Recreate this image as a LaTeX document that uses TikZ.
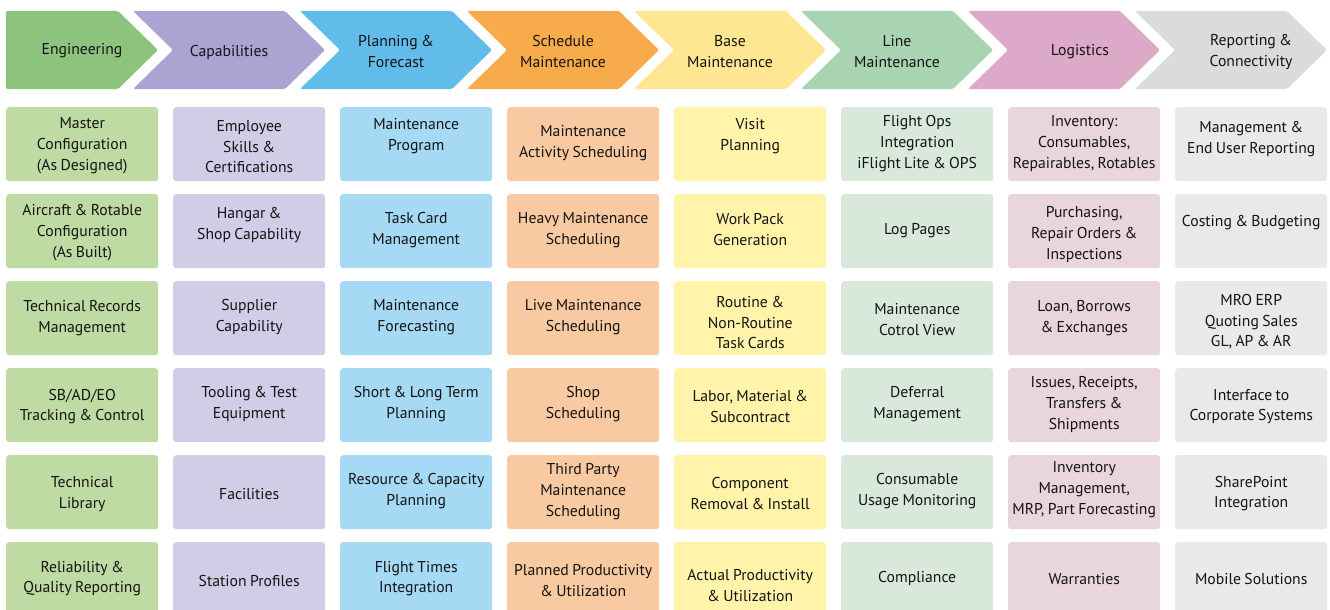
\documentclass[tikz,border=0pt]{standalone}
\usepackage{fontspec}
\setmainfont[WordSpace=0.8]{PT Sans}
\definecolor{hA}{HTML}{8CC47E}
\definecolor{hB}{HTML}{ABA3D1}
\definecolor{hC}{HTML}{62BCEA}
\definecolor{hD}{HTML}{F7AB4A}
\definecolor{hE}{HTML}{FFE693}
\definecolor{hF}{HTML}{A8D4B1}
\definecolor{hG}{HTML}{DCA9C8}
\definecolor{hH}{HTML}{DADBDB}
\definecolor{bA}{HTML}{BFDBA4}
\definecolor{bB}{HTML}{D2CDE7}
\definecolor{bC}{HTML}{A6D9F4}
\definecolor{bD}{HTML}{F9C9A1}
\definecolor{bE}{HTML}{FFF4AA}
\definecolor{bF}{HTML}{D8E9DB}
\definecolor{bG}{HTML}{E8D5DE}
\definecolor{bH}{HTML}{E9E9E9}
\definecolor{txt}{HTML}{141414}
\newcommand\chev[5][0]{% #1 text xshift, #2 left x, #3 colour, #4 name, #5 text
  \fill[#3, rounded corners=1.5pt] (#2,11) -- (#2+152,11) -- (#2+192,50) -- (#2+152,89) -- (#2,89) -- (#2+40,50) -- cycle;
  \node[headtext] (#4) at (#2+96+#1,52) {#5};}
\newcommand\cellbox[6][0]{% #1 text raise, #2 col, #3 row, #4 colour, #5 name, #6 text
  \node[cellnode, fill=#4] (#5) at ({6+167*#2},{107+87*#3}) {};
  \node[celltext, yshift=#1pt, yshift=-1.5pt] (#5t) at (#5.center) {#6};}
\begin{document}
\begin{tikzpicture}[x=1pt,y=-1pt,
  headtext/.style={align=center, font=\fontsize{15.7}{21}\selectfont, text=txt, inner sep=0pt},
  cellnode/.style={anchor=north west, rounded corners=3pt, minimum width=152pt, minimum height=74pt, inner sep=0pt},
  celltext/.style={align=center, font=\fontsize{15.7}{20.7}\selectfont, text=txt, inner sep=0pt}]
\useasboundingbox (0,0) rectangle (1330,610);
\clip (0,0) rectangle (1330,610);
% first chevron (flat left side)
\fill[hA, rounded corners=1.5pt] (6,11) -- (118,11) -- (158,50) -- (118,89) -- (6,89) -- cycle;
\node[headtext] (h1) at (82,51) {Engineering};
\chev{133}{hB}{h2}{Capabilities}
\chev{300}{hC}{h3}{Planning \&\\Forecast}
\chev{467}{hD}{h4}{Schedule\\Maintenance}
\chev{634}{hE}{h5}{Base\\Maintenance}
\chev{801}{hF}{h6}{Line\\Maintenance}
\chev[16]{968}{hG}{h7}{Logistics}
\chev[20]{1135}{hH}{h8}{Reporting \&\\Connectivity}
% column 1
\cellbox{0}{0}{bA}{a1}{Master\\Configuration\\(As Designed)}
\cellbox{0}{1}{bA}{a2}{Aircraft \& Rotable\\Configuration\\(As Built)}
\cellbox[1.5]{0}{2}{bA}{a3}{Technical Records\\Management}
\cellbox{0}{3}{bA}{a4}{SB/AD/EO\\Tracking \& Control}
\cellbox{0}{4}{bA}{a5}{Technical\\Library}
\cellbox[2]{0}{5}{bA}{a6}{Reliability \&\\Quality Reporting}
% column 2
\cellbox[-1]{1}{0}{bB}{b1}{Employee\\Skills \&\\Certifications}
\cellbox[7.5]{1}{1}{bB}{b2}{Hangar \&\\Shop Capability}
\cellbox[2.5]{1}{2}{bB}{b3}{Supplier\\Capability}
\cellbox[2.5]{1}{3}{bB}{b4}{Tooling \& Test\\Equipment}
\cellbox{1}{4}{bB}{b5}{Facilities}
\cellbox{1}{5}{bB}{b6}{Station Profiles}
% column 3
\cellbox[9.5]{2}{0}{bC}{c1}{Maintenance\\Program}
\cellbox[2.5]{2}{1}{bC}{c2}{Task Card\\Management}
\cellbox[2.5]{2}{2}{bC}{c3}{Maintenance\\Forecasting}
\cellbox[2.5]{2}{3}{bC}{c4}{Short \& Long Term\\Planning}
\cellbox[2.5]{2}{4}{bC}{c5}{Resource \& Capacity\\Planning}
\cellbox[2]{2}{5}{bC}{c6}{Flight Times\\Integration}
% column 4
\cellbox[2.5]{3}{0}{bD}{d1}{Maintenance\\Activity Scheduling}
\cellbox[2.5]{3}{1}{bD}{d2}{Heavy Maintenance\\Scheduling}
\cellbox[2.5]{3}{2}{bD}{d3}{Live Maintenance\\Scheduling}
\cellbox[2.5]{3}{3}{bD}{d4}{Shop\\Scheduling}
\cellbox[2]{3}{4}{bD}{d5}{Third Party\\Maintenance\\Scheduling}
\cellbox{3}{5}{bD}{d6}{Planned Productivity\\\& Utilization}
% column 5
\cellbox[9.5]{4}{0}{bE}{e1}{Visit\\Planning}
\cellbox[3.5]{4}{1}{bE}{e2}{Work Pack\\Generation}
\cellbox[-3]{4}{2}{bE}{e3}{Routine \&\\Non-Routine\\Task Cards}
\cellbox{4}{3}{bE}{e4}{Labor, Material \&\\Subcontract}
\cellbox{4}{4}{bE}{e5}{Component\\Removal \& Install}
\cellbox[-4.5]{4}{5}{bE}{e6}{Actual Productivity\\\& Utilization}
% column 6
\cellbox[2]{5}{0}{bF}{f1}{Flight Ops\\Integration\\iFlight Lite \& OPS}
\cellbox[2]{5}{1}{bF}{f2}{Log Pages}
\cellbox{5}{2}{bF}{f3}{Maintenance\\Cotrol View}
\cellbox[2.5]{5}{3}{bF}{f4}{Deferral\\Management}
\cellbox[2.5]{5}{4}{bF}{f5}{Consumable\\Usage Monitoring}
\cellbox[2]{5}{5}{bF}{f6}{Compliance}
% column 7
\cellbox[2]{6}{0}{bG}{g1}{Inventory:\\Consumables,\\Repairables, Rotables}
\cellbox[-2]{6}{1}{bG}{g2}{Purchasing,\\Repair Orders \&\\Inspections}
\cellbox[1.5]{6}{2}{bG}{g3}{Loan, Borrows\\\& Exchanges}
\cellbox[2]{6}{3}{bG}{g4}{Issues, Receipts,\\Transfers \&\\Shipments}
\cellbox[4]{6}{4}{bG}{g5}{Inventory\\Management,\\MRP, Part Forecasting}
\cellbox[2]{6}{5}{bG}{g6}{Warranties}
% column 8
\cellbox[6.5]{7}{0}{bH}{k1}{Management \&\\End User Reporting}
\cellbox[10]{7}{1}{bH}{k2}{Costing \& Budgeting}
\cellbox[-2]{7}{2}{bH}{k3}{MRO ERP\\Quoting Sales\\GL, AP \& AR}
\cellbox{7}{3}{bH}{k4}{Interface to\\Corporate Systems}
\cellbox{7}{4}{bH}{k5}{SharePoint\\Integration}
\cellbox[2]{7}{5}{bH}{k6}{Mobile Solutions}
\end{tikzpicture}
\end{document}
